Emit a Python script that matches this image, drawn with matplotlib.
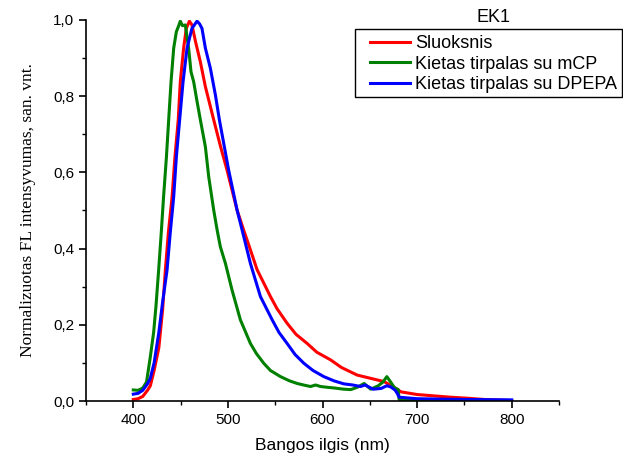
import matplotlib
matplotlib.use("Agg")
import matplotlib.pyplot as plt
from matplotlib.patches import Rectangle
from matplotlib.ticker import MultipleLocator, FuncFormatter

# --- data ---
red_x = [400, 405, 410, 415, 418, 422, 427, 431, 433.9, 437, 441, 444, 447.5, 449.7, 453.2, 456,
         459.3, 462, 465.6, 470.9, 476.2, 485, 492, 499.1, 509.7, 516.6, 522, 530.8, 545, 552,
         562.6, 572, 583.8, 594, 608.5, 620, 636.7, 650, 665, 675, 683, 700, 720, 735, 755, 771,
         800]
red_y = [0.004, 0.006, 0.012, 0.028, 0.04, 0.08, 0.14, 0.24, 0.344, 0.44, 0.536, 0.64, 0.738,
         0.838, 0.926, 0.978, 0.997, 0.987, 0.945, 0.89, 0.825, 0.738, 0.67, 0.606, 0.501, 0.449,
         0.41, 0.345, 0.274, 0.242, 0.204, 0.175, 0.151, 0.128, 0.108, 0.088, 0.068, 0.06, 0.051,
         0.037, 0.024, 0.017, 0.013, 0.01, 0.007, 0.004, 0.001]

green_x = [400, 405, 410, 414, 418, 421.5, 424, 426.8, 429.5, 432, 435, 437.4, 439.9, 442.7, 445.5,
           448, 449.7, 452, 455, 458.5, 461, 463.8, 467.4, 470.9, 476.2, 479.7, 485, 488.6, 492,
           497.4, 504.4, 513.2, 523.8, 530, 537.9, 545, 555.6, 565, 573.2, 580, 587.3, 592.6, 598,
           605, 613, 622.5, 630, 636.7, 644, 651, 659, 664, 668, 672, 676, 680, 681, 700, 750, 800]
green_y = [0.029, 0.028, 0.034, 0.05, 0.116, 0.18, 0.25, 0.344, 0.44, 0.536, 0.64, 0.738, 0.838,
           0.926, 0.969, 0.985, 0.997, 0.985, 0.987, 0.926, 0.864, 0.838, 0.786, 0.738, 0.667,
           0.589, 0.501, 0.449, 0.405, 0.361, 0.291, 0.213, 0.151, 0.125, 0.099, 0.08, 0.064,
           0.053, 0.046, 0.042, 0.038, 0.042, 0.038, 0.036, 0.034, 0.031, 0.03, 0.036, 0.046,
           0.031, 0.04, 0.05, 0.064, 0.05, 0.035, 0.03, 0.004, 0.003, 0.002, 0.0]

blue_x = [400, 405, 410, 415, 418, 422, 427, 431, 435.7, 439, 442.7, 445.5, 449, 452.6, 456.8, 462,
          467.4, 470, 472.6, 476.2, 481.5, 486.8, 491, 500.8, 509.7, 515, 523.8, 534.4, 546.8, 554,
          562.6, 571, 580.3, 590, 601.4, 612, 622.5, 632, 640.2, 645, 653.5, 662, 668, 672, 676.6,
          679, 681, 700, 750, 800]
blue_y = [0.018, 0.02, 0.028, 0.045, 0.06, 0.1, 0.18, 0.26, 0.344, 0.44, 0.536, 0.64, 0.738,
          0.838, 0.926, 0.978, 0.997, 0.99, 0.978, 0.926, 0.873, 0.803, 0.738, 0.606, 0.501, 0.449,
          0.361, 0.274, 0.213, 0.18, 0.151, 0.122, 0.099, 0.08, 0.064, 0.053, 0.045, 0.042, 0.038,
          0.042, 0.031, 0.033, 0.04, 0.037, 0.029, 0.02, 0.01, 0.006, 0.004, 0.003]

labels = ["Sluoksnis", "Kietas tirpalas su mCP", "Kietas tirpalas su DPEPA"]
colors = ["#ff0000", "#008000", "#0000ff"]

fig = plt.figure(figsize=(6.23, 4.65), dpi=100)
ax = fig.add_axes([86 / 623, 64 / 465, 473 / 623, 381 / 465])

for xs, ys, lab, c in zip([red_x, green_x, blue_x], [red_y, green_y, blue_y], labels, colors):
    ax.plot(xs, ys, color=c, lw=2.2, label=lab)

ax.set_xlim(350, 850)
ax.set_ylim(0, 1.0)
ax.xaxis.set_major_locator(MultipleLocator(100))
ax.xaxis.set_minor_locator(MultipleLocator(50))
ax.yaxis.set_major_locator(MultipleLocator(0.2))
ax.yaxis.set_minor_locator(MultipleLocator(0.1))
ax.xaxis.set_major_formatter(FuncFormatter(lambda v, p: f"{v:.0f}" if 400 <= v <= 800 else ""))
ax.yaxis.set_major_formatter(FuncFormatter(lambda v, p: f"{v:.1f}".replace(".", ",")))

for s in ("top", "right"):
    ax.spines[s].set_visible(False)
for s in ("left", "bottom"):
    ax.spines[s].set_linewidth(1.2)
ax.tick_params(which="major", direction="out", length=5, width=1.2, labelsize=11)
ax.tick_params(which="minor", direction="out", length=3, width=1.0)
for t in ax.get_xticklabels() + ax.get_yticklabels():
    t.set_family("Liberation Sans")

ax.set_xlabel("Bangos ilgis (nm)", family="Liberation Sans", fontsize=12.5, labelpad=8)
ax.set_ylabel("Normalizuotas FL intensyvumas, san. vnt.", family="Liberation Serif",
              fontsize=12.5, labelpad=12)

# legend text without its own frame; the box is drawn separately to match the reference
leg = fig.legend(loc="upper left", bbox_to_anchor=(370 / 623, 1 - 35 / 465),
                 prop={"family": "Liberation Sans", "size": 13}, frameon=False,
                 borderpad=0, borderaxespad=0, handlelength=2.2, handletextpad=0.3,
                 labelspacing=0.2)
fig.patches.append(Rectangle((355 / 623, 1 - 97 / 465), 267 / 623, 68 / 465,
                             transform=fig.transFigure, fill=False, edgecolor="black",
                             lw=1.0))

fig.text(493 / 623, 1 - 17 / 465, "EK1", family="Liberation Sans", fontsize=13,
         ha="center", va="center")

fig.savefig("out.png", dpi=100)
